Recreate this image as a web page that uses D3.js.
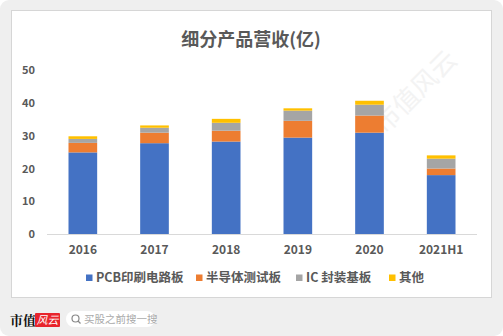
<!DOCTYPE html>
<html><head><meta charset="utf-8">
<script src="https://cdn.jsdelivr.net/npm/d3@7"></script>
<style>html,body{margin:0;padding:0;background:#fff;}svg{display:block;}</style>
</head><body>
<script>
const categories = ["2016","2017","2018","2019","2020","2021H1"];
const seriesNames = ["PCB印刷电路板","半导体测试板","IC 封装基板","其他"];
const pcb   = [24.8, 27.6, 28.1, 29.3, 30.8, 17.9];
const semi  = [2.9, 3.2, 3.3, 5.1, 5.2, 2.0];
const ic    = [1.2, 1.5, 2.4, 3.1, 3.3, 3.0];
const other = [0.8, 0.7, 1.2, 0.7, 1.2, 1.0];
const yTicks = [0, 10, 20, 30, 40, 50];
const colors = ["#4472C4","#ED7D31","#A5A5A5","#FFC000"];
const title = "细分产品营收(亿)";

const W = 503, H = 336;
const font = "'Noto Sans CJK SC','Noto Sans',sans-serif";
const svg = d3.select("body").append("svg").attr("width", W).attr("height", H);

// background
svg.append("rect").attr("x",0).attr("y",0).attr("width",W).attr("height",H).attr("fill","#fff");
svg.append("rect").attr("x",0).attr("y",0).attr("width",W).attr("height",H).attr("rx",9).attr("fill","#efefef");
svg.append("rect").attr("x",11.5).attr("y",10.5).attr("width",480).attr("height",287).attr("fill","#fff").attr("stroke","#d6d6d6");

// watermark (kept in empty space)
const wm = svg.append("g").attr("fill","#ececec").attr("font-family",font).attr("font-size",26);
[[385,135]].forEach(([x,y])=>{
  wm.append("text").attr("transform",`translate(${x},${y}) rotate(-45)`).text("市值风云").attr("opacity",0.6);
});

svg.append("text").attr("x",251).attr("y",46).attr("text-anchor","middle")
  .attr("font-family",font).attr("font-weight","bold").attr("font-size",18).attr("fill","#595959").text(title);

const x = d3.scaleBand().domain(categories).range([47,477]).paddingInner(0.6).paddingOuter(0.3);
const y = d3.scaleLinear().domain([0,50]).range([234,69.5]);

const data = categories.map((c,i)=>({cat:c, s0:pcb[i], s1:semi[i], s2:ic[i], s3:other[i]}));
const stack = d3.stack().keys(["s0","s1","s2","s3"])(data);

svg.append("g").selectAll("g").data(stack).join("g").attr("fill",(d,i)=>colors[i])
  .selectAll("rect").data(d=>d).join("rect")
  .attr("x",d=>x(d.data.cat)).attr("width",x.bandwidth())
  .attr("y",d=>y(d[1])).attr("height",d=>y(d[0])-y(d[1]));

// y axis
const ya = svg.append("g").attr("transform","translate(35,0)")
  .call(d3.axisLeft(y).tickValues(yTicks).tickSize(0).tickPadding(0));
ya.select(".domain").remove();
ya.selectAll("text").attr("font-family",font).attr("font-weight","bold").attr("font-size",11).attr("fill","#595959").attr("dy","0.35em");

// x axis
const xa = svg.append("g").attr("transform","translate(0,234)")
  .call(d3.axisBottom(x).tickSize(0).tickPadding(11));
xa.select(".domain").attr("d","M47,0.5H477").attr("stroke","#d9d9d9");
xa.selectAll("text").attr("font-family",font).attr("font-weight","bold").attr("font-size",12).attr("fill","#595959");

// legend
const legendX = [86, 196, 296, 389];
const lg = svg.append("g");
seriesNames.forEach((n,i)=>{
  lg.append("rect").attr("x",legendX[i]).attr("y",274.5).attr("width",6.5).attr("height",6.5).attr("fill",colors[i]);
  lg.append("text").attr("x",legendX[i]+10).attr("y",282).attr("font-family",font).attr("font-weight","bold")
    .attr("font-size",12.5).attr("fill","#595959").text(n);
});

// footer
svg.append("text").attr("x",10).attr("y",325).attr("font-family","'Noto Serif CJK SC','Noto Sans CJK SC',serif")
  .attr("font-weight","bold").attr("font-size",13).attr("fill","#111").text("市值");
svg.append("rect").attr("x",35).attr("y",313).attr("width",25).attr("height",14).attr("fill","#e8242c").attr("rx",1);
svg.append("text").attr("x",47.5).attr("y",324).attr("text-anchor","middle").attr("font-family",font)
  .attr("font-style","italic").attr("font-size",11).attr("fill","#fff").text("风云");
svg.append("rect").attr("x",66).attr("y",311).attr("width",89).attr("height",16).attr("rx",8).attr("fill","#fff");
svg.append("circle").attr("cx",75.5).attr("cy",318.5).attr("r",3.5).attr("fill","none").attr("stroke","#888").attr("stroke-width",1.2);
svg.append("line").attr("x1",78).attr("y1",321).attr("x2",80.5).attr("y2",323.5).attr("stroke","#888").attr("stroke-width",1.3);
svg.append("text").attr("x",84).attr("y",323).attr("font-family",font).attr("font-size",10.5).attr("fill","#aaa").text("买股之前搜一搜");
</script>
</body></html>
